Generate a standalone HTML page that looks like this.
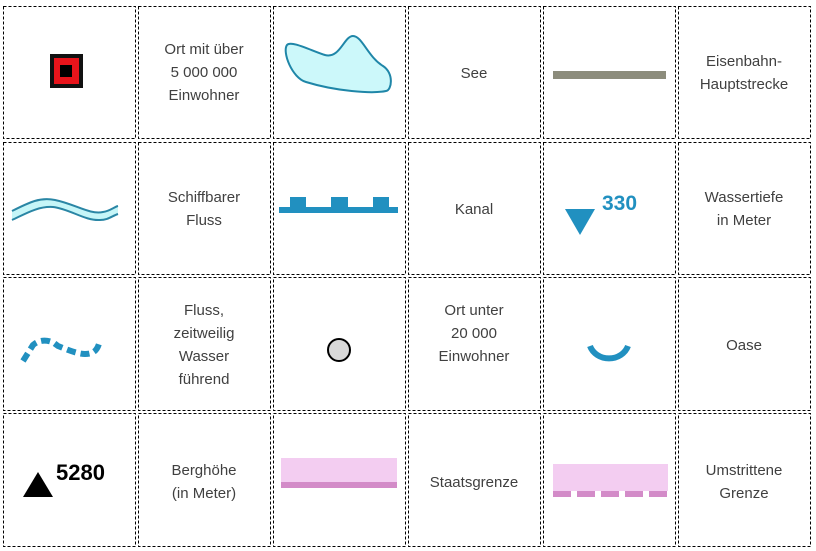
<!DOCTYPE html>
<html><head><meta charset="utf-8"><style>
html,body{margin:0;padding:0;background:#fff}
svg{display:block}
text{font-family:"Liberation Sans",sans-serif;}
.l{fill:#404040;font-size:15px;text-anchor:middle}
</style></head><body>
<svg width="816" height="551" viewBox="0 0 816 551" xmlns="http://www.w3.org/2000/svg">
<g fill="none" stroke="#000" stroke-width="1" stroke-dasharray="3,2">
<rect x="3.5" y="6.5" width="132" height="132"/><rect x="138.5" y="6.5" width="132" height="132"/><rect x="273.5" y="6.5" width="132" height="132"/><rect x="408.5" y="6.5" width="132" height="132"/><rect x="543.5" y="6.5" width="132" height="132"/><rect x="678.5" y="6.5" width="132" height="132"/>
<rect x="3.5" y="142.5" width="132" height="132"/><rect x="138.5" y="142.5" width="132" height="132"/><rect x="273.5" y="142.5" width="132" height="132"/><rect x="408.5" y="142.5" width="132" height="132"/><rect x="543.5" y="142.5" width="132" height="132"/><rect x="678.5" y="142.5" width="132" height="132"/>
<rect x="3.5" y="277.5" width="132" height="133"/><rect x="138.5" y="277.5" width="132" height="133"/><rect x="273.5" y="277.5" width="132" height="133"/><rect x="408.5" y="277.5" width="132" height="133"/><rect x="543.5" y="277.5" width="132" height="133"/><rect x="678.5" y="277.5" width="132" height="133"/>
<rect x="3.5" y="413.5" width="132" height="133"/><rect x="138.5" y="413.5" width="132" height="133"/><rect x="273.5" y="413.5" width="132" height="133"/><rect x="408.5" y="413.5" width="132" height="133"/><rect x="543.5" y="413.5" width="132" height="133"/><rect x="678.5" y="413.5" width="132" height="133"/>
</g>
<!-- row1 -->
<rect x="52" y="56" width="29" height="30" fill="#e8141b" stroke="#111" stroke-width="4"/>
<rect x="60" y="65" width="12" height="12" fill="#000"/>
<text class="l" x="204" y="54">Ort mit über</text><text class="l" x="204" y="77">5 000 000</text><text class="l" x="204" y="100">Einwohner</text>
<path d="M287,45 C291,40 312,51 325,55 C340,59 344,36 353,36 C362,36 368,57 383,66 C394,73 392,90 386,91 C372,94 335,91 306,82 C292,78 282,52 287,45 Z" fill="#ccf8fa" stroke="#1f86a8" stroke-width="2"/>
<text class="l" x="474" y="78">See</text>
<rect x="553" y="71" width="113" height="8" fill="#8c8c7c"/>
<text class="l" x="744" y="66">Eisenbahn-</text><text class="l" x="744" y="89">Hauptstrecke</text>
<!-- row2 -->
<path d="M12,211 C30,202 40,197 55,200 C75,204 90,215 103,212 C110,211 114,207 118,206 L118,214 C112,216 108,220 100,220 C85,221 70,209 53,207 C38,206 25,214 12,220 Z" fill="#c6f6f8"/>
<path d="M12,211 C30,202 40,197 55,200 C75,204 90,215 103,212 C110,211 114,207 118,206 M12,220 C25,214 38,206 53,207 C70,209 85,221 100,220 C108,220 112,216 118,214" fill="none" stroke="#2a86a5" stroke-width="2"/>
<text class="l" x="204" y="202">Schiffbarer</text><text class="l" x="204" y="225">Fluss</text>
<rect x="279" y="207" width="119" height="6" fill="#2190c0"/>
<rect x="290" y="197" width="16" height="11" fill="#2190c0"/><rect x="331" y="197" width="17" height="11" fill="#2190c0"/><rect x="373" y="197" width="16" height="11" fill="#2190c0"/>
<text class="l" x="474" y="214">Kanal</text>
<path d="M565,209 L595,209 L580,235 Z" fill="#2190c0"/>
<text x="602" y="210" font-size="21" font-weight="bold" fill="#2190c0">330</text>
<text class="l" x="744" y="202">Wassertiefe</text><text class="l" x="744" y="225">in Meter</text>
<!-- row3 -->
<path d="M23,361 L33,345 C40,339 48,340 54,343 L58,346 C68,350 78,354 85,354 C95,354 98,349 100,340" fill="none" stroke="#2190c0" stroke-width="6" stroke-dasharray="9,5"/>
<text class="l" x="204" y="315">Fluss,</text><text class="l" x="204" y="338">zeitweilig</text><text class="l" x="204" y="361">Wasser</text><text class="l" x="204" y="384">führend</text>
<circle cx="339" cy="350" r="11" fill="#d9d9d9" stroke="#000" stroke-width="2"/>
<text class="l" x="474" y="315">Ort unter</text><text class="l" x="474" y="338">20 000</text><text class="l" x="474" y="361">Einwohner</text>
<path d="M590,346 A20,18 0 0 0 628,346" fill="none" stroke="#2190c0" stroke-width="6"/>
<text class="l" x="744" y="350">Oase</text>
<!-- row4 -->
<path d="M23,497 L53,497 L38,472 Z" fill="#000"/>
<text x="56" y="480" font-size="22" font-weight="bold" fill="#000">5280</text>
<text class="l" x="204" y="475">Berghöhe</text><text class="l" x="204" y="498">(in Meter)</text>
<rect x="281" y="458" width="116" height="24" fill="#f3cdf1"/>
<rect x="281" y="482" width="116" height="6" fill="#d38bc8"/>
<text class="l" x="474" y="487">Staatsgrenze</text>
<rect x="553" y="464" width="115" height="27" fill="#f3cdf1"/>
<g fill="#d38bc8"><rect x="553" y="491" width="18" height="6"/><rect x="577" y="491" width="18" height="6"/><rect x="601" y="491" width="18" height="6"/><rect x="625" y="491" width="18" height="6"/><rect x="649" y="491" width="18" height="6"/></g>
<text class="l" x="744" y="475">Umstrittene</text><text class="l" x="744" y="498">Grenze</text>
</svg>
</body></html>
